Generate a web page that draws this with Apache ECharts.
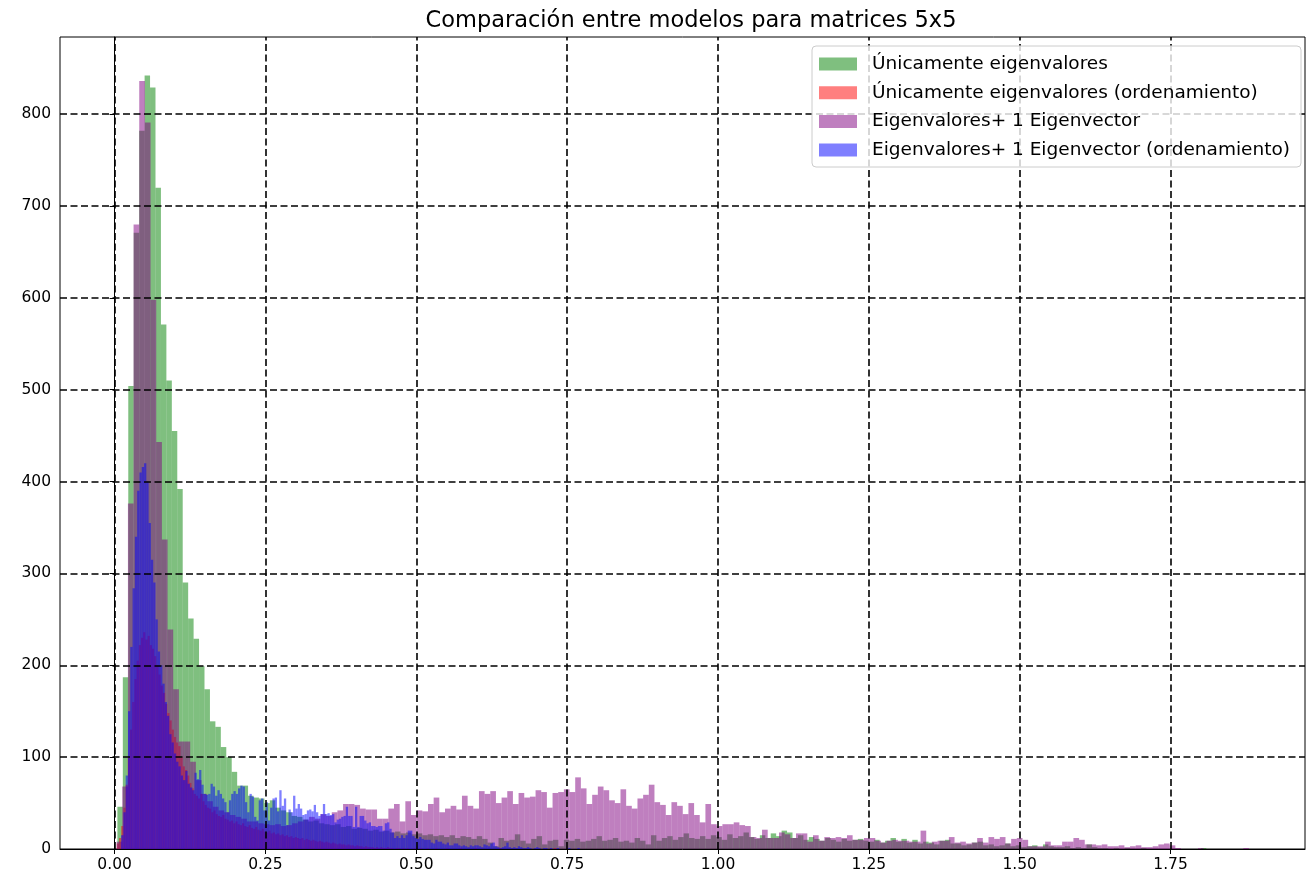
<!DOCTYPE html>
<html>
<head>
<meta charset="utf-8">
<script src="https://cdn.jsdelivr.net/npm/echarts@6/dist/echarts.min.js"></script>
<style>
  html, body { margin: 0; padding: 0; background: #fff; }
  #chart { width: 1306px; height: 884px; }
</style>
</head>
<body>
<div id="chart"></div>
<script>
// Histogram counts per model (error of the prediction), one entry per bin.
const seriesNames = [
  'Únicamente eigenvalores',
  'Únicamente eigenvalores (ordenamiento)',
  'Eigenvalores+ 1 Eigenvector',
  'Eigenvalores+ 1 Eigenvector (ordenamiento)'
];

// Bin layout of each histogram: left edge of the first bin and bin width.
const greenStart = 0.0046, greenWidth = 0.009023;
const redStart = 0.00364, redWidth = 0.00364;
const purpleStart = 0.0033, purpleWidth = 0.009383;
const blueStart = 0.01076, blueWidth = 0.0038;

const greenCounts = [
  46, 187, 504, 671, 782, 842, 829, 720, 571, 510, 455, 392, 290, 251, 229, 199, 174, 139, 133, 111,
  100, 84, 69, 69, 58, 56, 55, 50, 53, 45, 42, 40, 36, 35, 32, 30, 31, 28, 27, 26,
  27, 24, 25, 22, 23, 22, 20, 21, 19, 20, 18, 19, 17, 18, 16, 17, 15, 16, 14, 15,
  13, 15, 12, 14, 13, 11, 14, 11, 7, 3, 12, 9, 10, 16, 9, 6, 11, 14, 5, 9,
  10, 3, 10, 9, 11, 8, 9, 11, 14, 9, 10, 12, 8, 9, 7, 12, 9, 5, 15, 9,
  12, 14, 10, 13, 17, 12, 11, 14, 11, 15, 13, 10, 16, 12, 14, 18, 13, 11, 15, 12,
  17, 14, 20, 18, 12, 15, 10, 13, 11, 9, 12, 10, 8, 11, 9, 10, 11, 9, 8, 10,
  7, 9, 12, 8, 11, 7, 10, 6, 8, 7, 5, 9, 10, 6, 6, 4, 5, 7, 8, 4,
  5, 3, 4, 6, 3, 4, 2, 3, 4, 2, 5, 3, 2, 2, 3, 1, 2, 1, 5, 2,
  1, 1, 0, 1, 0, 1, 0, 0, 1, 0, 0, 0, 0, 0, 0, 0, 0, 0, 0, 1
];

const redCounts = [
  6, 12, 25, 45, 70, 100, 130, 160, 185, 205, 222, 230, 236, 228, 232, 222, 218, 210, 200, 190,
  178, 170, 158, 148, 140, 130, 122, 116, 112, 100, 90, 86, 80, 72, 66, 60, 58, 55, 60, 52,
  48, 45, 44, 40, 42, 38, 36, 35, 37, 33, 32, 30, 31, 28, 30, 27, 26, 28, 25, 24,
  26, 23, 22, 24, 21, 20, 22, 19, 18, 20, 17, 18, 16, 17, 15, 16, 14, 15, 13, 14,
  12, 13, 12, 11, 12, 10, 11, 10, 9, 10, 9, 8, 9, 8, 7, 8, 7, 6, 7, 6,
  5, 6, 5, 5, 4, 5, 4, 4, 3, 4, 3, 3, 2, 3, 2, 2, 2, 1, 2, 1,
  2, 1, 1, 2, 1, 1, 0, 1, 1, 0, 1, 0, 1, 0, 0, 1, 0, 0, 1, 0,
  0, 1, 0, 0, 0, 1, 0, 0, 0, 0, 1, 0, 0, 0, 0, 0, 1, 0, 0, 0,
  0, 0, 0, 1, 0, 0, 0, 0, 0, 0, 0, 0, 0, 0, 1, 0, 0, 0, 0, 0,
  0, 0, 0, 0, 0, 0, 0, 0, 0, 0, 0, 0, 0, 0, 0, 0, 0, 0, 0, 1
];

const purpleCounts = [
  8, 68, 376, 680, 836, 791, 598, 443, 337, 239, 174, 117, 117, 95, 75, 60, 52, 46, 42, 40,
  37, 35, 33, 30, 30, 28, 27, 26, 27, 25, 26, 28, 30, 32, 35, 33, 38, 36, 40, 42,
  49, 49, 48, 44, 43, 43, 33, 33, 44, 49, 30, 52, 37, 42, 41, 49, 56, 40, 44, 47,
  43, 58, 47, 44, 63, 60, 63, 50, 56, 63, 49, 61, 56, 57, 64, 62, 45, 61, 62, 65,
  62, 78, 66, 49, 59, 68, 64, 53, 50, 65, 47, 44, 55, 59, 70, 51, 48, 37, 51, 47,
  38, 50, 37, 29, 49, 27, 25, 27, 27, 29, 26, 25, 13, 12, 21, 12, 12, 18, 16, 12,
  17, 17, 8, 15, 9, 13, 12, 13, 12, 15, 10, 10, 12, 12, 9, 7, 9, 10, 9, 9,
  8, 8, 20, 6, 8, 9, 9, 13, 7, 8, 6, 7, 12, 7, 13, 11, 13, 6, 11, 12,
  10, 3, 3, 3, 8, 4, 4, 8, 8, 12, 10, 5, 5, 4, 5, 3, 3, 4, 2, 3,
  4, 2, 2, 3, 5, 6, 4, 1, 0, 0, 0, 1, 0, 0, 0, 0, 0, 0, 0, 1
];

const blueCounts = [
  15, 40, 80, 150, 220, 284, 340, 390, 410, 416, 420, 400, 355, 315, 290, 250, 215, 200, 180, 160,
  145, 125, 116, 104, 95, 90, 80, 75, 85, 71, 67, 64, 83, 76, 86, 70, 60, 59, 60, 71,
  68, 58, 64, 60, 55, 51, 40, 53, 60, 63, 60, 66, 69, 68, 51, 40, 60, 57, 35, 31,
  53, 55, 42, 51, 31, 45, 55, 56, 41, 64, 47, 55, 26, 43, 40, 58, 44, 49, 44, 37,
  38, 42, 43, 41, 48, 40, 36, 38, 49, 38, 39, 37, 38, 29, 32, 33, 35, 36, 46, 36,
  36, 24, 46, 24, 36, 36, 31, 28, 29, 25, 25, 24, 25, 25, 20, 28, 29, 22, 18, 12,
  14, 12, 15, 12, 15, 20, 20, 14, 12, 11, 13, 11, 10, 10, 10, 7, 6, 10, 8, 8,
  6, 5, 7, 4, 4, 6, 6, 4, 3, 4, 3, 2, 4, 3, 4, 4, 3, 2, 5, 4,
  3, 6, 7, 3, 2, 1, 2, 3, 7, 2, 1, 2, 1, 3, 2, 1, 1, 2, 1, 0,
  1, 2, 1, 0, 1, 1, 0, 1, 0, 0, 1, 0, 0, 0, 0, 1, 0, 0, 0, 1
];

const xTicks = [0, 0.25, 0.5, 0.75, 1.0, 1.25, 1.5, 1.75];
const yTicks = [0, 100, 200, 300, 400, 500, 600, 700, 800];
const yGrid = [100, 200, 300, 400, 500, 600, 700, 800];

// Turn counts into [leftEdge, rightEdge, count] rows.
function bins(start, width, counts) {
  return counts.map((c, i) => [start + i * width, start + (i + 1) * width, c]);
}

// One rectangle per bin, placed through the cartesian scales.
function renderBin(params, api) {
  const top = api.coord([api.value(0), api.value(2)]);
  const bottom = api.coord([api.value(1), 0]);
  return {
    type: 'rect',
    shape: { x: top[0], y: top[1], width: bottom[0] - top[0], height: bottom[1] - top[1] },
    style: { fill: api.visual('color') }
  };
}

const FONT = 'DejaVu Sans';
const colors = ['rgba(0,128,0,0.5)', 'rgba(255,0,0,0.5)', 'rgba(128,0,128,0.5)', 'rgba(0,0,255,0.5)'];
const histData = [
  bins(greenStart, greenWidth, greenCounts),
  bins(redStart, redWidth, redCounts),
  bins(purpleStart, purpleWidth, purpleCounts),
  bins(blueStart, blueWidth, blueCounts)
];

const series = histData.map((d, k) => ({
  type: 'custom',
  name: seriesNames[k],
  renderItem: renderBin,
  data: d,
  encode: { x: [0, 1], y: 2 },
  itemStyle: { color: colors[k] },
  z: 2,
  animation: false,
  silent: true
}));

// Dashed grid drawn above the bars.
series.push({
  type: 'custom',
  name: 'grid',
  renderItem: () => null,
  data: [],
  z: 3,
  silent: true,
  markLine: {
    silent: true,
    symbol: ['none', 'none'],
    label: { show: false },
    animation: false,
    z: 3,
    lineStyle: { color: '#000', type: [7, 3.5], width: 1.6 },
    data: xTicks.map(v => ({ xAxis: v })).concat(yGrid.map(v => ({ yAxis: v })))
  }
});

const chart = echarts.init(document.getElementById('chart'), null, { renderer: 'canvas' });
chart.setOption({
  animation: false,
  backgroundColor: '#fff',
  title: {
    text: 'Comparación entre modelos para matrices 5x5',
    left: 686,
    top: 5,
    textAlign: 'center',
    textStyle: { fontFamily: FONT, fontSize: 22.5, fontWeight: 'normal', color: '#000' }
  },
  grid: {
    left: 60, right: 1, top: 37, bottom: 35,
    show: true, borderColor: '#000', borderWidth: 1, backgroundColor: 'transparent'
  },
  xAxis: {
    type: 'value',
    min: -0.0905,
    max: 1.9728,
    axisLine: { show: true, onZero: false, lineStyle: { color: '#000', width: 1 } },
    axisTick: { show: true, customValues: xTicks, length: 5, lineStyle: { color: '#000' } },
    axisLabel: {
      customValues: xTicks, margin: 8, color: '#000',
      fontFamily: FONT, fontSize: 15.5,
      formatter: v => v.toFixed(2)
    },
    splitLine: { show: false }
  },
  yAxis: {
    type: 'value',
    min: 0,
    max: 884,
    axisLine: { show: true, lineStyle: { color: '#000', width: 1 } },
    axisTick: { show: true, customValues: yTicks, length: 5, lineStyle: { color: '#000' } },
    axisLabel: {
      customValues: yTicks, margin: 9, color: '#000',
      fontFamily: FONT, fontSize: 15.5
    },
    splitLine: { show: false }
  },
  legend: {
    data: seriesNames,
    orient: 'vertical',
    left: 819,
    top: 54,
    padding: 0,
    itemWidth: 38,
    itemHeight: 13,
    itemGap: 8.7,
    icon: 'rect',
    z: 101,
    textStyle: { fontFamily: FONT, fontSize: 18.5, color: '#000', lineHeight: 20, padding: [0, 0, 0, 10] }
  },
  graphic: [{
    type: 'rect',
    z: 100,
    shape: { x: 812, y: 46, width: 489, height: 121, r: 4 },
    style: { fill: 'rgba(255,255,255,0.8)', stroke: '#cccccc', lineWidth: 1 }
  }],
  series: series
});
</script>
</body>
</html>
